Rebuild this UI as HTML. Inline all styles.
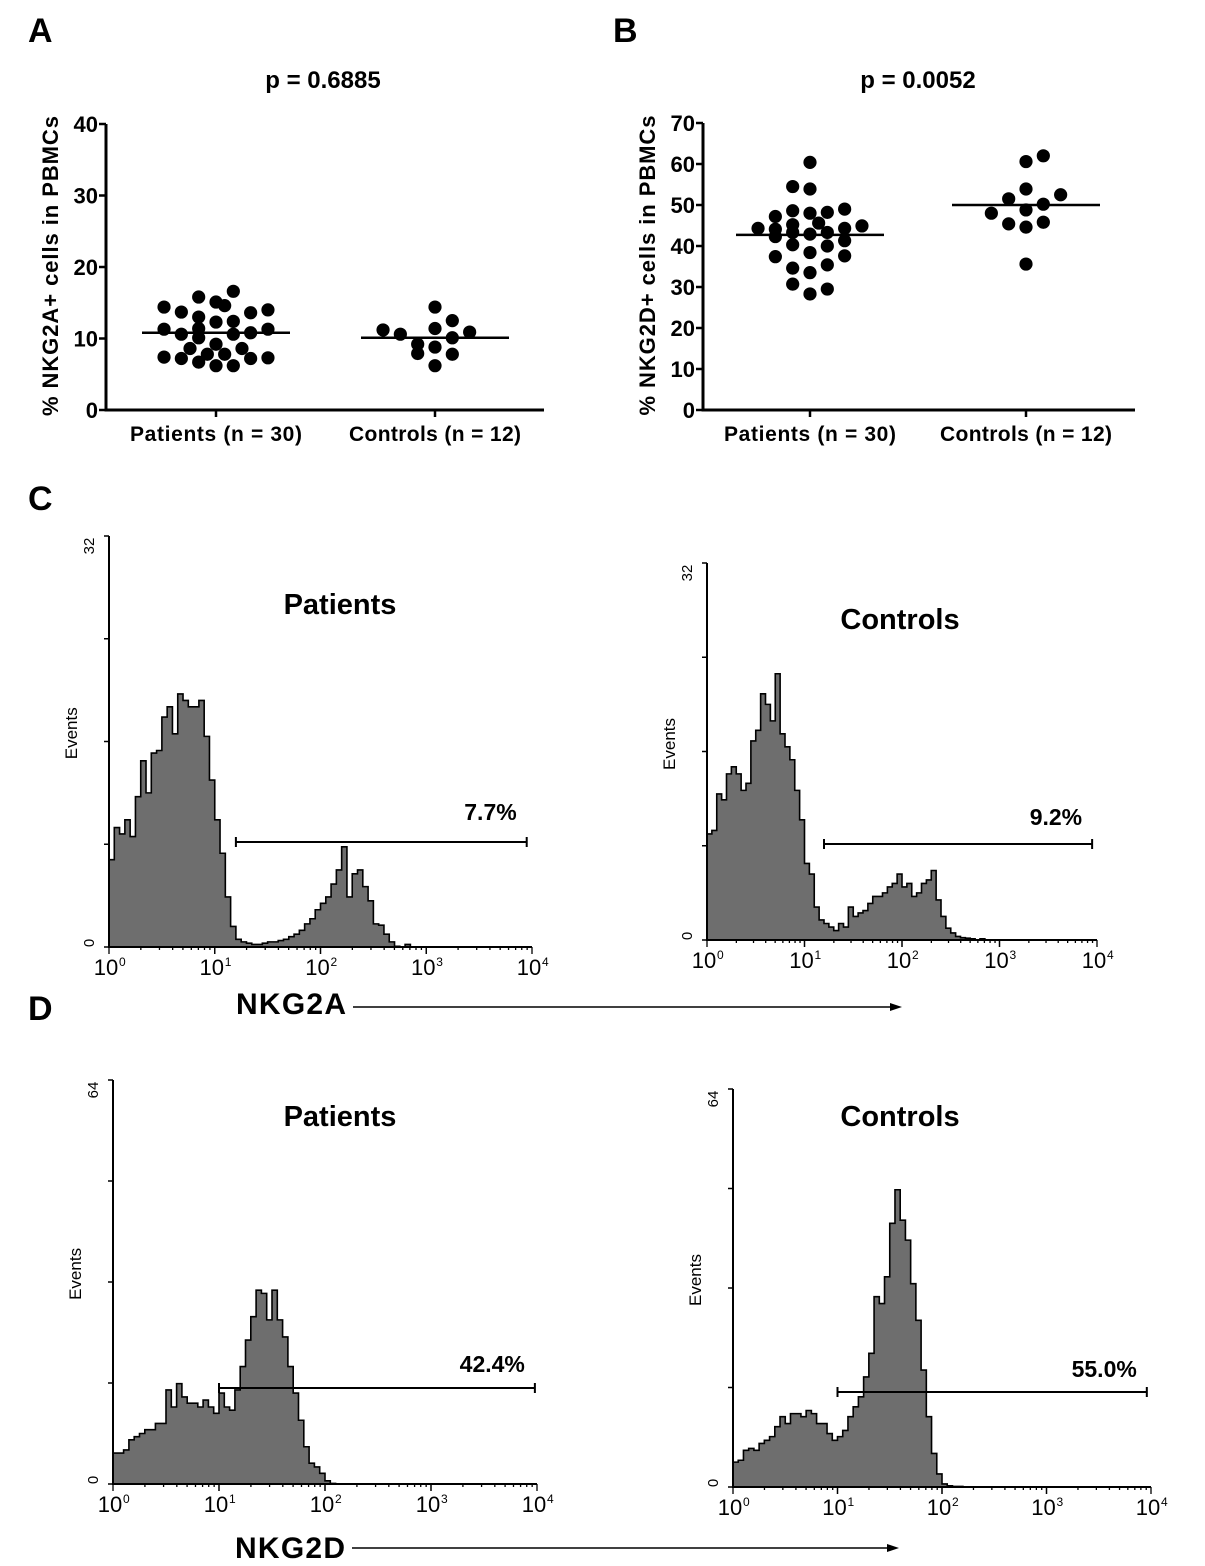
<!DOCTYPE html>
<html><head><meta charset="utf-8">
<style>
html,body{margin:0;padding:0;background:#fff;}
svg{display:block;}
text{font-family:"Liberation Sans",Arial,sans-serif;}
</style></head>
<body>
<svg id="fig" width="1205" height="1566" viewBox="0 0 1205 1566" xmlns="http://www.w3.org/2000/svg">
<rect x="0" y="0" width="1205" height="1566" fill="#fff"/>
<text x="28" y="42" font-size="34" font-weight="bold">A</text>
<text x="613" y="42" font-size="34" font-weight="bold">B</text>
<text x="28" y="510" font-size="34" font-weight="bold">C</text>
<text x="28" y="1020" font-size="34" font-weight="bold">D</text>
<text x="323" y="88" font-size="24" font-weight="bold" text-anchor="middle">p = 0.6885</text>
<text x="918" y="88" font-size="24" font-weight="bold" text-anchor="middle">p = 0.0052</text>
<g id="gA"></g>
<g id="gB"></g>
<g id="h1"></g>
<g id="h2"></g>
<g id="h3"></g>
<g id="h4"></g>
<text x="236" y="1014" font-size="30" font-weight="bold" textLength="110">NKG2A</text>
<line x1="353" y1="1007" x2="896" y2="1007" stroke="#000" stroke-width="1.6"/>
<polygon points="902,1007 890,1003 890,1011" fill="#000"/>
<text x="235" y="1558" font-size="30" font-weight="bold" textLength="110">NKG2D</text>
<line x1="352" y1="1548" x2="893" y2="1548" stroke="#000" stroke-width="1.6"/>
<polygon points="899,1548 887,1544 887,1552" fill="#000"/>
</svg>
<script>
// ---------- Scatter data ----------
const scatterCategories = ["Patients (n = 30)", "Controls (n = 12)"];
const aPatients = [14.4,11.3,7.4,13.7,10.6,7.2,8.6,15.8,13.0,11.4,10.1,6.7,7.8,15.1,12.3,9.2,6.2,14.6,7.8,12.4,10.6,6.2,8.6,13.6,10.8,7.2,14.0,11.3,7.3,16.6];
const aPatientsJitter = [-6,-6,-6,-4,-4,-4,-3,-2,-2,-2,-2,-2,-1,0,0,0,0,1,1,2,2,2,3,4,4,4,6,6,6,2];
const aControls = [11.2,10.6,9.2,7.9,14.4,11.4,8.8,6.2,12.5,10.1,7.8,10.9];
const aControlsJitter = [-6,-4,-2,-2,0,0,0,0,2,2,2,4];
const aMeans = [10.8, 10.1];
const aTicks = [0,10,20,30,40];
const bPatients = [44.3,47.2,44.1,42.3,37.4,54.5,48.6,45.2,43.3,40.3,34.6,30.7,60.4,53.9,48.0,42.9,38.4,33.5,28.3,45.6,48.2,43.3,40.0,35.4,29.5,49.0,44.3,41.3,37.6,44.9];
const bPatientsJitter = [-6,-4,-4,-4,-4,-2,-2,-2,-2,-2,-2,-2,0,0,0,0,0,0,0,1,2,2,2,2,2,4,4,4,4,6];
const bControls = [48.0,51.5,45.4,60.6,53.9,48.8,44.6,35.6,62.0,50.2,45.8,52.5];
const bControlsJitter = [-4,-2,-2,0,0,0,0,0,2,2,2,4];
const bMeans = [42.7, 50.0];
const bTicks = [0,10,20,30,40,50,60,70];

// ---------- Histogram data (counts at log10 positions 0..4 step 0.05; beyond listed = 0) ----------
const histC1 = [6.8,9.3,8.8,9.9,8.6,11.7,14.5,12,15.1,15.3,17.9,18.7,16.6,19.7,19.2,18.7,18.7,19.2,16.4,13,9.9,7.3,3.9,1.6,0.6,0.4,0.3,0.2,0.2,0.3,0.4,0.4,0.5,0.6,0.8,1,1.3,1.8,2.2,2.9,3.4,3.9,4.9,6,7.8,3.9,5.7,6,4.7,3.6,1.8,1.7,1,0.4,0.05,0,0.2,0];
const histC2 = [9,9.3,12.4,11.9,14.1,14.7,14.1,12.7,13.3,16.9,17.8,20.9,20,18.6,22.6,17.5,16.4,15.3,12.7,10.2,6.5,5.6,2.8,1.7,1.4,1.1,0.8,1.4,1.1,2.8,2,2.3,2.5,3.1,3.7,3.7,4,4.5,4.8,5.6,4.5,4.8,3.7,4,4.8,5.1,5.9,3.4,2,1,0.6,0.3,0.2,0.15,0.1,0,0.1,0];
const histD1 = [4.9,4.9,5.4,7,7.5,8,8.6,8.6,9.6,9.6,14.9,12.2,15.9,13.8,12.8,12.8,12.2,13.3,12.2,11.2,14.4,12.2,11.7,14.9,18.6,22.8,26.5,30.7,30.2,26,30.7,26,23.3,18.6,14.4,10.1,5.9,3.3,2.7,1.7,0.5,0.1,0];
const histD2 = [4,4.3,5.9,6.2,5.9,7,7.5,8.1,9.7,11.3,10.2,11.8,11.8,11.3,12.3,11.8,10.2,10.2,8.6,7.5,8.1,9.1,11.3,12.9,14.5,17.7,21.5,30.6,29.5,33.8,42.4,47.8,42.9,39.7,32.7,26.8,18.8,11.3,5.4,2.1,0.5,0.2,0.1,0.1,0];
const gateLabels = ["7.7%","9.2%","42.4%","55.0%"];
const gateRanges = [[1.2,3.95],[1.2,3.95],[1.0,3.98],[1.0,3.96]];
const histTitles = ["Patients","Controls","Patients","Controls"];
const histMax = [32,32,64,64];

const NS = "http://www.w3.org/2000/svg";
function mk(parent, tag, attrs){ const e=document.createElementNS(NS,tag); for(const k in attrs) e.setAttribute(k,attrs[k]); parent.appendChild(e); return e; }

function scatter(gid, cfg, ticks, pts, jit, means, ylabel){
  const g=document.getElementById(gid);
  const y=v=>cfg.y0-(v-ticks[0])/(ticks[ticks.length-1]-ticks[0])*(cfg.y0-cfg.yTop);
  let ax=mk(g,'polyline',{points:`${cfg.x0},${cfg.yTop} ${cfg.x0},${cfg.y0} ${cfg.x1},${cfg.y0}`,fill:'none',stroke:'#000','stroke-width':3});
   
  ticks.forEach(t=>{
    const l=mk(g,'line',{x1:cfg.x0-7,x2:cfg.x0,y1:y(t),y2:y(t),stroke:'#000','stroke-width':2.5});
     
    const tx=mk(g,'text',{x:cfg.x0-8,y:y(t)+8,'font-size':22,'font-weight':'bold','text-anchor':'end'});
    tx.textContent=t;
     
  });
  const yl=mk(g,'text',{x:0,y:0,'font-size':22,'font-weight':'bold','text-anchor':'middle',textLength:300,transform:`translate(${cfg.x0-48},${(cfg.y0+cfg.yTop)/2-1}) rotate(-90)`});
  yl.textContent=ylabel;
   
  scatterCategories.forEach((c,i)=>{
    const cx=cfg.cats[i];
    const tk=mk(g,'line',{x1:cx,x2:cx,y1:cfg.y0,y2:cfg.y0+7,stroke:'#000','stroke-width':2.5});
     
    const tl=mk(g,'text',{x:cx,y:cfg.y0+31,'font-size':21,'font-weight':'bold','text-anchor':'middle',textLength:172});
    tl.textContent=c;
     
    pts[i].forEach((v,j)=>{
      const d=mk(g,'circle',{cx:cx+jit[i][j]*8.66,cy:y(v),r:6.6,fill:'#000'});
       
    });
    const m=mk(g,'line',{x1:cx-74,x2:cx+74,y1:y(means[i]),y2:y(means[i]),stroke:'#000','stroke-width':2.5});
     
  });
}
scatter('gA',{x0:106,x1:544,y0:410,yTop:124,cats:[216,435]},aTicks,[aPatients,aControls],[aPatientsJitter,aControlsJitter],aMeans,'% NKG2A+ cells in PBMCs');
scatter('gB',{x0:703,x1:1135,y0:410,yTop:123,cats:[810,1026]},bTicks,[bPatients,bControls],[bPatientsJitter,bControlsJitter],bMeans,'% NKG2D+ cells in PBMCs');

const histCfg = [
  {data:histC1,x0:109,x1:532,y0:947,yTop:536,gateY:842,titleX:340,titleY:614,labY:812},
  {data:histC2,x0:707,x1:1097,y0:940,yTop:563,gateY:844,titleX:900,titleY:629,labY:817},
  {data:histD1,x0:113,x1:537,y0:1484,yTop:1080,gateY:1388,titleX:340,titleY:1126,labY:1364},
  {data:histD2,x0:733,x1:1151,y0:1487,yTop:1089,gateY:1392,titleX:900,titleY:1126,labY:1369}
];
histCfg.forEach((c,hi)=>{
  const g=document.getElementById('h'+(hi+1));
  const X=p=>c.x0+p/4*(c.x1-c.x0);
  const Y=v=>c.y0-v/histMax[hi]*(c.y0-c.yTop);
  const step=0.05;
  let d=`M${X(0)},${c.y0}`;
  c.data.forEach((v,i)=>{ d+=` L${X(i*step)},${Y(v)} L${X((i+1)*step)},${Y(v)}`; });
  d+=` L${X(c.data.length*step)},${c.y0} Z`;
  const p=mk(g,'path',{d:d,fill:'#6e6e6e',stroke:'#000','stroke-width':1.6,'stroke-linejoin':'miter'});
   
  const ax=mk(g,'polyline',{points:`${c.x0},${c.yTop} ${c.x0},${c.y0} ${c.x1},${c.y0}`,fill:'none',stroke:'#000','stroke-width':2});
   
  for(let k=0;k<=4;k++){
    const yy=c.y0-k/4*(c.y0-c.yTop);
    const t=mk(g,'line',{x1:c.x0-5,x2:c.x0,y1:yy,y2:yy,stroke:'#000','stroke-width':1.5});
     
  }
  for(let dec=0;dec<4;dec++){
    for(let m=1;m<=10;m++){
      const xx=X(dec+Math.log10(m));
      const big=(m===1||m===10);
      const t=mk(g,'line',{x1:xx,x2:xx,y1:c.y0,y2:c.y0+(big?7:3),stroke:'#000','stroke-width':1.3});
       
    }
  }
  for(let dec=0;dec<=4;dec++){
    const t=mk(g,'text',{x:X(dec)-3,y:c.y0+28,'font-size':22,'text-anchor':'middle'});
    t.textContent='10';
     
    const s=mk(g,'text',{x:X(dec)+10,y:c.y0+19,'font-size':12});
    s.textContent=String(dec);
     
  }
  const topL=mk(g,'text',{x:0,y:0,'font-size':15,'text-anchor':'middle',transform:`translate(${c.x0-15},${c.yTop+10}) rotate(-90)`});
  topL.textContent=String(histMax[hi]);
   
  const zL=mk(g,'text',{x:0,y:0,'font-size':15,'text-anchor':'middle',transform:`translate(${c.x0-15},${c.y0-4}) rotate(-90)`});
  zL.textContent='0';
   
  const ev=mk(g,'text',{x:0,y:0,'font-size':17,'text-anchor':'middle',transform:`translate(${c.x0-32},${c.y0-(c.y0-c.yTop)*0.52}) rotate(-90)`});
  ev.textContent='Events';
   
  const ti=mk(g,'text',{x:c.titleX,y:c.titleY,'font-size':29,'font-weight':'bold','text-anchor':'middle'});
  ti.textContent=histTitles[hi];
   
  const gx1=X(gateRanges[hi][0]), gx2=X(gateRanges[hi][1]);
  const gl=mk(g,'path',{d:`M${gx1},${c.gateY} L${gx2},${c.gateY} M${gx1},${c.gateY-5} L${gx1},${c.gateY+5} M${gx2},${c.gateY-5} L${gx2},${c.gateY+5}`,stroke:'#000','stroke-width':2,fill:'none'});
   
  const lab=mk(g,'text',{x:gx2-10,y:c.labY+8,'font-size':23,'font-weight':'bold','text-anchor':'end','font-family':'"Liberation Mono",monospace'});
  lab.textContent=gateLabels[hi];
   
});
</script>
</body></html>
